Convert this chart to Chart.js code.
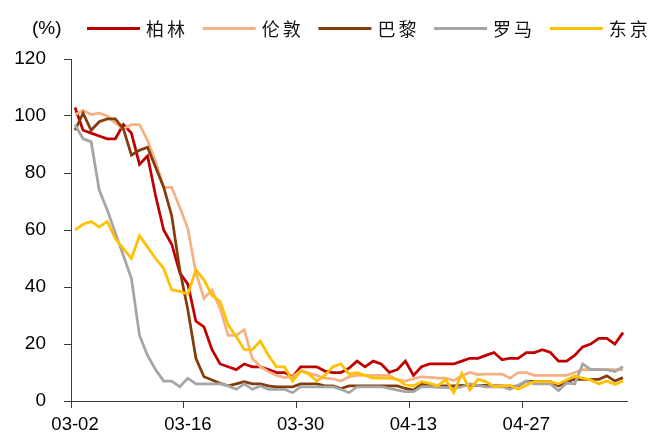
<!DOCTYPE html>
<html>
<head>
<meta charset="utf-8">
<script src="https://cdn.jsdelivr.net/npm/chart.js@4/dist/chart.umd.min.js"></script>
<style>
  html, body { margin: 0; padding: 0; background: #fff; }
  #wrap { width: 660px; height: 432px; position: relative; }
</style>
</head>
<body>
<div id="wrap"><canvas id="c" width="660" height="432"></canvas></div>
<script>
// Daily categories, 03-02 through 05-09
const dates = [
  '03-02','03-03','03-04','03-05','03-06','03-07','03-08','03-09','03-10','03-11',
  '03-12','03-13','03-14','03-15','03-16','03-17','03-18','03-19','03-20','03-21',
  '03-22','03-23','03-24','03-25','03-26','03-27','03-28','03-29','03-30','03-31',
  '04-01','04-02','04-03','04-04','04-05','04-06','04-07','04-08','04-09','04-10',
  '04-11','04-12','04-13','04-14','04-15','04-16','04-17','04-18','04-19','04-20',
  '04-21','04-22','04-23','04-24','04-25','04-26','04-27','04-28','04-29','04-30',
  '05-01','05-02','05-03','05-04','05-05','05-06','05-07','05-08','05-09'
];
const tickDates = ['03-02', '03-16', '03-30', '04-13', '04-27'];

const berlin = [
  103, 95, 94, 93, 92, 92, 97, 94, 83, 86,
  72, 60, 55, 45, 41, 28, 26, 18, 13, 12,
  11, 13, 12, 12, 11, 10, 10, 8.5, 12, 12,
  12, 10.5, 10, 10, 11.5, 14, 12, 14, 13, 10,
  11, 14, 9, 12, 13, 13, 13, 13, 14, 15,
  15, 16, 17, 14.5, 15, 15, 17, 17, 18, 17,
  14, 14, 16, 19, 20, 22, 22, 20, 24
];
const london = [
  100.4, 102, 100.5, 101, 100, 97.5, 95.5, 97, 97, 91.5,
  84, 75, 75, 68, 60.5, 45, 36, 39, 32.5, 23,
  23, 25, 15, 12, 10.3, 9, 8.2, 8.5, 10.7, 9.8,
  9, 8, 7.8, 7, 8.5, 9, 9, 9, 9, 9,
  7.4, 7, 7.8, 8.5, 8.3, 8, 8, 7.2, 8.8, 10,
  9.3, 9.4, 9.4, 9.4, 8, 10, 10, 9, 9, 9,
  9, 9, 10, 11, 11, 11, 11, 11, 11
];
const paris = [
  95, 101, 95, 98, 99, 99, 95.5, 86.3, 88, 89,
  82, 75, 65, 46, 32, 15, 8.5, 7.4, 6.2, 5.3,
  6, 6.8, 6, 6, 5.3, 5, 5, 5, 6, 6,
  6, 5.3, 5.3, 4.4, 5.3, 5.3, 5.3, 5.3, 5.3, 5.3,
  5.3, 4.4, 3.8, 5.8, 5.8, 5.3, 5.3, 5.3, 5.5, 5.5,
  5.5, 5.5, 5.3, 5.3, 5, 5.3, 7, 6.8, 6.8, 6.8,
  5.3, 6.8, 7.6, 7.6, 7.6, 7.6, 8.8, 7, 8.2
];
const rome = [
  97, 92, 91, 74, 67, 59, 51, 43, 23, 16,
  11, 7, 7, 5, 8, 6, 6, 6, 6, 5.3,
  4.1, 6, 4.1, 5.3, 4.1, 4.1, 4.1, 2.9, 5, 5,
  5, 5, 5, 4.1, 2.9, 5, 5, 5, 5, 4.4,
  3.8, 3.3, 3.3, 5, 5, 4.8, 4.8, 4.4, 5, 6,
  5.5, 5, 5, 5, 4.1, 5.5, 7, 6, 6, 6,
  3.6, 6.3, 6, 13, 11, 11, 11, 10.3, 12
];
const tokyo = [
  60, 62, 63, 61, 63, 57, 53.5, 50, 58, 54,
  50, 46.5, 39, 38.5, 37.5, 46, 42.5, 37, 35, 26.7,
  22.6, 18, 18, 21, 16, 12, 12, 7, 10.5, 9.5,
  7, 9, 12, 13, 9.4, 9.9, 9, 8, 8, 8,
  7.6, 5.6, 5.3, 6.8, 6.2, 5.3, 7.5, 2.9, 9.7, 3.9,
  7.6, 6.8, 5, 5.3, 5.5, 4.1, 5.5, 6.8, 6.8, 6.8,
  6, 7.4, 8.8, 8, 7.4, 6, 7, 5.8, 7
];

const seriesNames = ['柏林', '伦敦', '巴黎', '罗马', '东京'];
const seriesColors = ['#C00000', '#F4B183', '#843C0C', '#A5A5A5', '#FFC000'];
const unitLabel = '(%)';

const axisColor = '#3a3a3a';
const tickFont = { family: 'Arial, "Liberation Sans", sans-serif', size: 19 };

// Unit caption and a single-row legend above the plot
const topLegend = {
  id: 'topLegend',
  afterDraw(chart) {
    const ctx = chart.ctx;
    ctx.save();
    ctx.fillStyle = '#000';
    ctx.textBaseline = 'middle';
    ctx.textAlign = 'left';
    ctx.font = '19px Arial, "Liberation Sans", sans-serif';
    ctx.fillText(unitLabel, 32, 29);
    ctx.font = '18px "Noto Sans CJK SC", sans-serif';
    ctx.letterSpacing = '3px';
    chart.data.datasets.forEach((ds, k) => {
      const x0 = 87 + k * 115.7;
      ctx.strokeStyle = ds.borderColor;
      ctx.lineWidth = 3;
      ctx.beginPath();
      ctx.moveTo(x0, 28.5);
      ctx.lineTo(x0 + 53, 28.5);
      ctx.stroke();
      ctx.fillStyle = '#111';
      ctx.fillText(ds.label, x0 + 59, 29);
    });
    ctx.restore();
  }
};

const seriesData = [berlin, london, paris, rome, tokyo];

new Chart(document.getElementById('c'), {
  type: 'line',
  data: {
    labels: dates,
    datasets: seriesData.map((vals, k) => ({
      label: seriesNames[k],
      data: vals,
      borderColor: seriesColors[k],
      backgroundColor: seriesColors[k],
      borderWidth: 2.75,
      pointRadius: 0,
      tension: 0,
      fill: false,
      order: seriesData.length - k
    }))
  },
  options: {
    responsive: false,
    animation: false,
    devicePixelRatio: 1,
    layout: { padding: { top: 59, right: 33, left: 0, bottom: 0 } },
    plugins: {
      legend: { display: false },
      tooltip: { enabled: false }
    },
    scales: {
      x: {
        type: 'category',
        offset: true,
        afterFit(scale) { scale.height = 31; },
        grid: {
          offset: true,
          drawOnChartArea: false,
          drawTicks: true,
          tickLength: 7,
          tickWidth: 1,
          color: (ctx) => (ctx.index % 14 === 0 ? axisColor : 'rgba(0,0,0,0)')
        },
        border: { display: true, color: axisColor, width: 1 },
        ticks: {
          autoSkip: false,
          maxRotation: 0,
          minRotation: 0,
          padding: 6,
          color: '#000',
          font: { family: tickFont.family, size: 18.5 },
          callback(value, index) {
            const d = dates[index];
            return tickDates.includes(d) ? d : '';
          }
        }
      },
      y: {
        min: 0,
        max: 120,
        afterFit(scale) { scale.width = 71; },
        grid: {
          drawOnChartArea: false,
          drawTicks: true,
          tickLength: 7,
          color: axisColor
        },
        border: { display: true, color: axisColor, width: 1 },
        ticks: {
          stepSize: 20,
          padding: 18,
          color: '#000',
          font: tickFont
        }
      }
    }
  },
  plugins: [topLegend]
});
</script>
</body>
</html>
